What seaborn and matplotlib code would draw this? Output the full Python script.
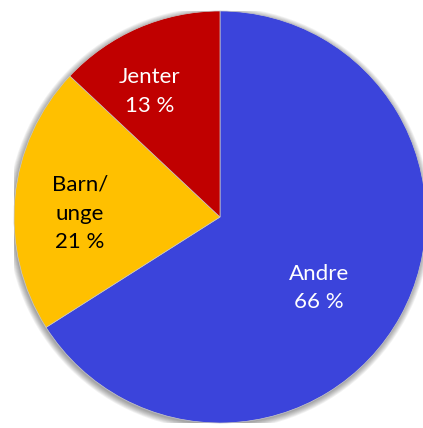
import numpy as np
import matplotlib
matplotlib.use("Agg")
import matplotlib.pyplot as plt
import seaborn as sns
from matplotlib.patches import Circle

# data
categories = ["Andre", "Barn/\nunge", "Jenter"]
shares = [66, 21, 13]
colors = sns.color_palette(["#3B44DB", "#FFC000", "#C00000"])
text_colors = ["white", "black", "white"]
# where each label sits inside its wedge (radius fraction, angle shift in degrees)
label_place = [(0.59, -7), (0.68, 4), (0.70, 6)]

sns.set_style("white")
plt.rcParams["font.family"] = ["Lato", "DejaVu Sans"]

fig = plt.figure(figsize=(4.23, 4.28), dpi=100)
ax = fig.add_axes([14 / 423, 5 / 428, 412 / 423, 412 / 428])

# soft shadow behind the pie
for k in range(8):
    ax.add_patch(Circle((-0.004, -0.008), 1 + 0.004 * k, color="black",
                        alpha=0.05, lw=0, zorder=0))

wedges, _ = ax.pie(shares, colors=colors, startangle=90, counterclock=False,
                   radius=1, center=(0, 0), labels=None,
                   wedgeprops=dict(linewidth=0.5, edgecolor="#c8c8c8", zorder=2))

for w, cat, val, tc, (r, shift) in zip(wedges, categories, shares, text_colors, label_place):
    ang = np.deg2rad((w.theta1 + w.theta2) / 2 + shift)
    ax.text(r * np.cos(ang), r * np.sin(ang), f"{cat}\n{val} %",
            ha="center", va="center", color=tc, fontsize=16, linespacing=1.55,
            zorder=3)

ax.set_xlim(-1, 1)
ax.set_ylim(-1, 1)
ax.set_aspect("auto")
ax.axis("off")

fig.savefig("out.png", dpi=100)
